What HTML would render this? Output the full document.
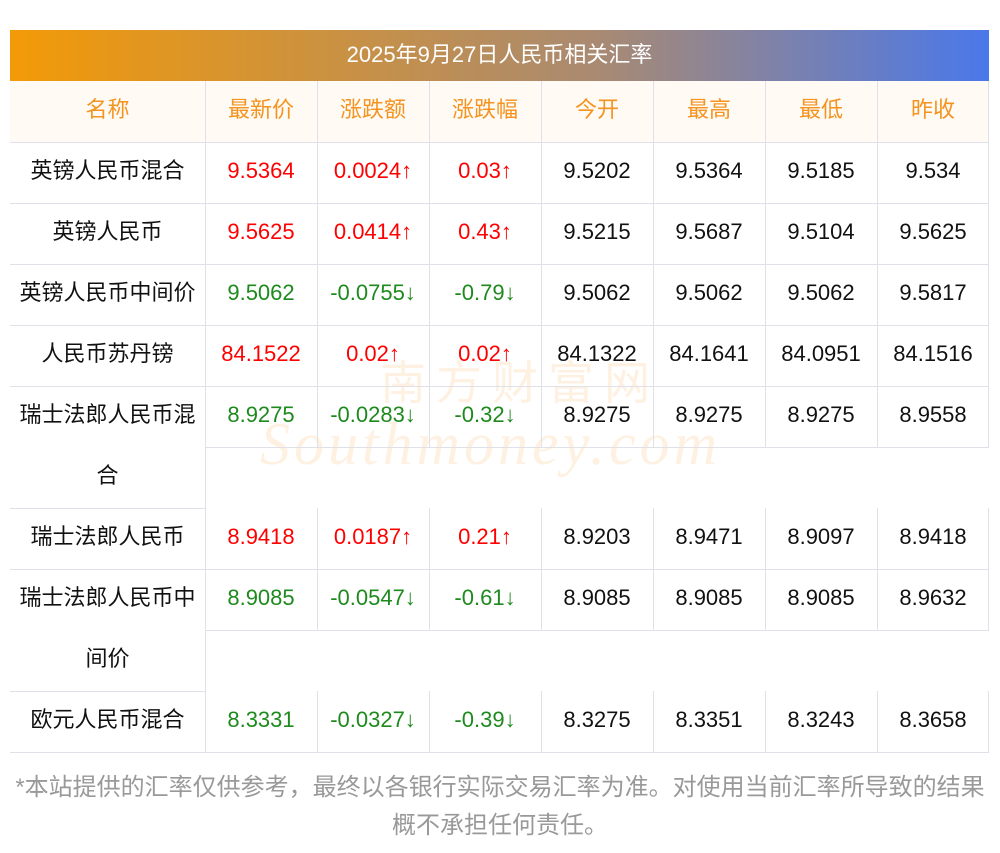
<!DOCTYPE html>
<html><head><meta charset="utf-8"><style>
body{margin:0;width:1000px;height:853px;background:#fff;position:relative;font-family:"Liberation Sans","Noto Sans CJK SC",sans-serif;overflow:hidden}
.t{position:absolute;left:10px;top:30px;width:979px;height:51px;background:linear-gradient(90deg,#f39a07,#a98a72 60%,#4a78ea);color:#fff;font-size:22px;line-height:49px;text-align:center}
.hd{position:absolute;left:10px;top:81px;width:979px;height:61px;background:#fffaf3}
.c{position:absolute;height:61px;line-height:57px;text-align:center;font-size:22px;color:#111;white-space:nowrap}
.h{color:#f4931f}
.r{color:#f00}.g{color:#1e8a1e}
.hl{position:absolute;height:1px;background:#e0e0e8}
.vl{position:absolute;width:1px;background:#e0e0e8}
.f{position:absolute;left:0;width:1000px;text-align:center;font-size:24px;color:#999;white-space:nowrap}
.wm{position:absolute;left:260px;top:350px;font-size:46px;color:rgba(250,190,120,0.22);font-family:"Liberation Serif",serif;font-style:italic;letter-spacing:4px;line-height:60px}
</style></head><body>
<div class="t">2025年9月27日人民币相关汇率</div>
<div class="hd"></div>
<div class="wm"><span style="font-family:'Noto Sans CJK SC';font-style:normal;letter-spacing:10px;margin-left:120px">南方财富网</span><br><span style="font-size:60px">Southmoney.com</span></div>
<div id="g"></div>
<div class="f" style="top:767px">*本站提供的汇率仅供参考，最终以各银行实际交易汇率为准。对使用当前汇率所导致的结果</div>
<div class="f" style="top:805px">概不承担任何责任。</div>
<script>
const X=[10,205,317,429,541,653,765,877,989];
const rows=[
["名称","最新价","涨跌额","涨跌幅","今开","最高","最低","昨收"],
["英镑人民币混合","9.5364","0.0024↑","0.03↑","9.5202","9.5364","9.5185","9.534"],
["英镑人民币","9.5625","0.0414↑","0.43↑","9.5215","9.5687","9.5104","9.5625"],
["英镑人民币中间价","9.5062","-0.0755↓","-0.79↓","9.5062","9.5062","9.5062","9.5817"],
["人民币苏丹镑","84.1522","0.02↑","0.02↑","84.1322","84.1641","84.0951","84.1516"],
["瑞士法郎人民币混|合","8.9275","-0.0283↓","-0.32↓","8.9275","8.9275","8.9275","8.9558"],
["瑞士法郎人民币","8.9418","0.0187↑","0.21↑","8.9203","8.9471","8.9097","8.9418"],
["瑞士法郎人民币中|间价","8.9085","-0.0547↓","-0.61↓","8.9085","8.9085","8.9085","8.9632"],
["欧元人民币混合","8.3331","-0.0327↓","-0.39↓","8.3275","8.3351","8.3243","8.3658"]];
let h="",y=81;
rows.forEach((r,i)=>{
 const dbl=r[0].includes("|");const H=dbl?122:61;
 r.forEach((v,j)=>{
  let cls="c";
  if(i==0)cls+=" h";else if(j>=1&&j<=3)cls+=(r[2][0]=="-"?" g":" r");
  if(j==0&&dbl){const p=v.split("|");h+=`<div class="${cls}" style="left:${X[0]}px;top:${y}px;width:195px">${p[0]}</div><div class="${cls}" style="left:${X[0]}px;top:${y+61}px;width:195px">${p[1]}</div>`;}
  else h+=`<div class="${cls}" style="left:${X[j]}px;top:${y}px;width:${X[j+1]-X[j]}px">${v}</div>`;
  if(j>0)h+=`<div class="vl" style="left:${X[j]}px;top:${y}px;height:${j==1?H:61}px"></div>`;
 });
 h+=`<div class="vl" style="left:988px;top:${y}px;height:61px"></div>`;
 if(dbl)h+=`<div class="hl" style="left:205px;top:${y+61}px;width:784px"></div><div class="hl" style="left:10px;top:${y+H}px;width:195px"></div>`;
 else h+=`<div class="hl" style="left:10px;top:${y+61}px;width:979px"></div>`;
 y+=H;
});
document.getElementById("g").innerHTML=h;
</script>
</body></html>
